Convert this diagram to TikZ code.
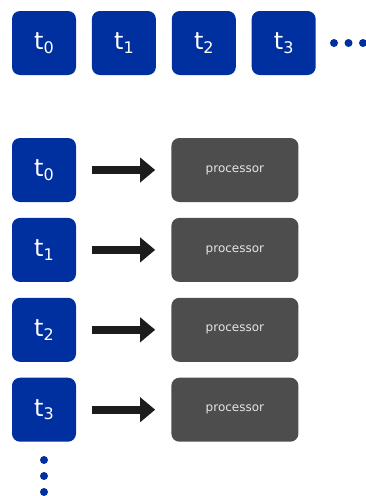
\documentclass[tikz,border=0pt]{standalone}
\usepackage{fontspec}
\setmainfont{DejaVu Sans}
\usepackage{xcolor}
\usetikzlibrary{positioning,arrows.meta}

\definecolor{taskblue}{RGB}{0,48,160}
\definecolor{procgray}{RGB}{77,77,77}
\definecolor{arrowblack}{RGB}{28,28,28}
\newcommand{\tlabel}[1]{t\raisebox{-0.3ex}{\fontsize{16}{16}\selectfont #1}}

\begin{document}
\begin{tikzpicture}[x=1pt,y=-1pt,node distance=15.5pt]
    % Define styles
    \tikzstyle{task} = [rectangle, rounded corners=8pt, minimum width=64pt, minimum height=64pt, inner sep=0pt, fill=taskblue, text=white, font=\fontsize{24}{24}\selectfont]
    \tikzstyle{processor} = [rectangle, rounded corners=8pt, minimum width=127pt, minimum height=64pt, inner sep=0pt, fill=procgray, text=white!90!black, font=\fontsize{12}{12}\selectfont]
    \tikzstyle{arrow} = [arrowblack, line width=8pt, -{Triangle[length=15pt,width=24pt]}, shorten <=16pt, shorten >=16pt]

    \useasboundingbox[fill=white] (0,0) rectangle (366,496);
    \clip (0,0) rectangle (366,496);

    % Top row
    \node (top0) [task] at (44,43) {\tlabel{0}};
    \node (top1) [task, right=of top0] {\tlabel{1}};
    \node (top2) [task, right=of top1] {\tlabel{2}};
    \node (top3) [task, right=of top2] {\tlabel{3}};
    \foreach \x in {334,348.5,363}
        \fill[taskblue] (\x,43) circle (4pt);

    % Tasks
    \node (task0) [task] at (44,170) {\tlabel{0}};
    \node (task1) [task, below=of task0] {\tlabel{1}};
    \node (task2) [task, below=of task1] {\tlabel{2}};
    \node (task3) [task, below=of task2] {\tlabel{3}};
    \foreach \y in {460,476,492}
        \fill[taskblue] (44,\y) circle (4pt);

    % Processors
    \node (proc0) [processor, right=95pt of task0] {processor};
    \node (proc1) [processor, right=95pt of task1] {processor};
    \node (proc2) [processor, right=95pt of task2] {processor};
    \node (proc3) [processor, right=95pt of task3] {processor};

    % Arrows
    \draw [arrow] (task0) -- (proc0);
    \draw [arrow] (task1) -- (proc1);
    \draw [arrow] (task2) -- (proc2);
    \draw [arrow] (task3) -- (proc3);
\end{tikzpicture}
\end{document}
